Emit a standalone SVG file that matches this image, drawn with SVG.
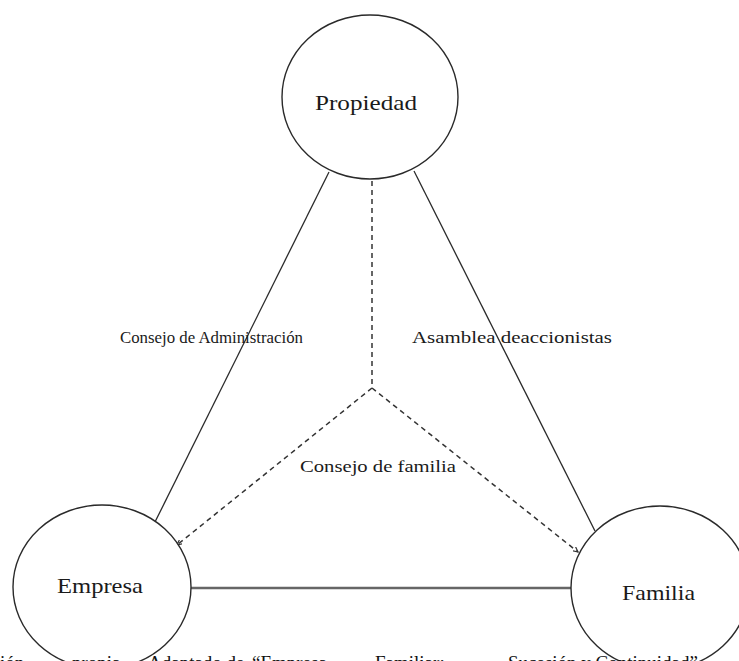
<svg xmlns="http://www.w3.org/2000/svg" width="739" height="661" viewBox="0 0 739 661">
<style>
.node{fill:#fff;stroke:#2a2a2a;stroke-width:1.4}
text{font-family:'Liberation Serif','DejaVu Serif',serif;fill:#1a1a1a}
.big{font-size:22px}
.small{font-size:16px}
.edge{stroke:#2a2a2a;stroke-width:1.3;fill:none}
.dash{stroke:#333;stroke-width:1.5;stroke-dasharray:5 4;fill:none}
.thick{stroke:#666;stroke-width:2.6;fill:none}
.cap{font-size:19px;fill:#111}
</style>
<defs>
<marker id="tip" markerWidth="6" markerHeight="6" refX="5" refY="3" orient="auto" markerUnits="userSpaceOnUse">
<path d="M0,0.5 L5,3 L0,5.5" fill="none" stroke="#333" stroke-width="1.2"/>
</marker>
</defs>
<rect width="739" height="661" fill="#fff"/>
<g id="connectors">
<line class="edge" x1="329" y1="172" x2="155" y2="522"/>
<line class="edge" x1="414" y1="171" x2="595" y2="531"/>
<line class="thick" x1="191" y1="588" x2="571" y2="588"/>
<line class="dash" x1="372" y1="181" x2="372" y2="387"/>
<line class="dash" x1="372" y1="388" x2="177" y2="545" marker-end="url(#tip)"/>
<line class="dash" x1="372" y1="388" x2="578" y2="552" marker-end="url(#tip)"/>
<text class="small" font-family="Liberation Serif, serif" x="120" y="343" textLength="183" lengthAdjust="spacingAndGlyphs">Consejo de Administración</text>
<text class="small" font-family="Liberation Serif, serif" x="412" y="343" textLength="200" lengthAdjust="spacingAndGlyphs">Asamblea deaccionistas</text>
<text class="small" font-family="Liberation Serif, serif" x="300" y="472" textLength="156" lengthAdjust="spacingAndGlyphs">Consejo de familia</text>
</g>
<g id="propiedad">
<ellipse class="node" cx="370" cy="97" rx="88" ry="82"/>
<text class="big" font-family="Liberation Serif, serif" x="315" y="110" textLength="102" lengthAdjust="spacingAndGlyphs">Propiedad</text>
</g>
<g id="empresa">
<ellipse class="node" cx="102" cy="587" rx="89" ry="82"/>
<text class="big" font-family="Liberation Serif, serif" x="57" y="593" textLength="86" lengthAdjust="spacingAndGlyphs">Empresa</text>
</g>
<g id="familia">
<ellipse class="node" cx="660" cy="588" rx="89" ry="82"/>
<text class="big" font-family="Liberation Serif, serif" x="622" y="600" textLength="73" lengthAdjust="spacingAndGlyphs">Familia</text>
</g>
<text class="cap" font-family="Liberation Serif, serif" y="669"><tspan x="0">ión</tspan><tspan x="72">propia.</tspan><tspan x="148">Adaptado de</tspan><tspan x="252">“Empresa</tspan><tspan x="375">Familiar:</tspan><tspan x="508">Sucesión y Continuidad”</tspan></text>
</svg>
